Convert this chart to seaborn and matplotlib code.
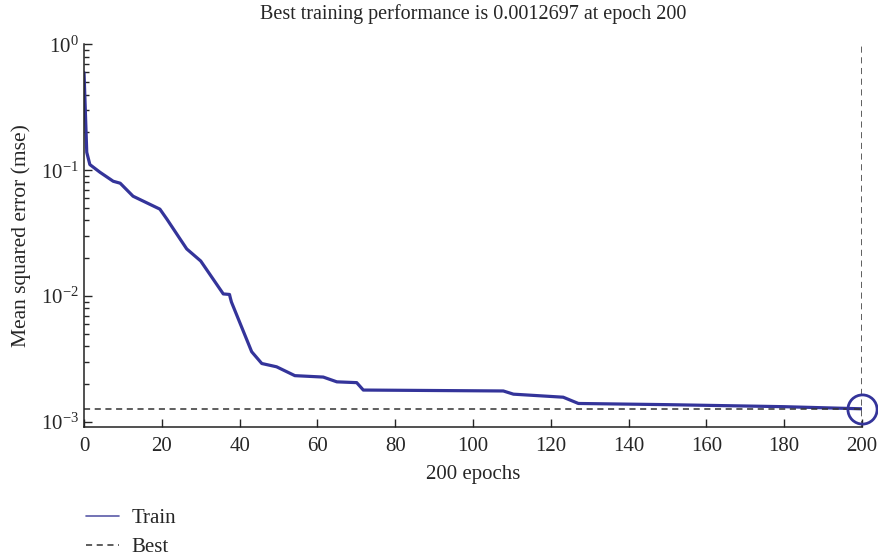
import numpy as np
import pandas as pd
import seaborn as sns
import matplotlib
matplotlib.use('Agg')
import matplotlib.pyplot as plt
from matplotlib.lines import Line2D
from matplotlib.ticker import LogLocator, MultipleLocator

sns.set_theme(style='ticks')
plt.rcParams['font.family'] = ['Liberation Serif', 'DejaVu Serif']
plt.rcParams['mathtext.fontset'] = 'stix'

# training curve (epoch, mse)
epochs = [0, 0.7, 1.5, 4.1, 7.5, 9.3, 12.6, 19.5, 21.3, 24.7, 26.4, 30, 35.8, 37.4, 37.6,
          37.9, 43.1, 45.7, 49.5, 54.2, 61.5, 65, 70.1, 71.8, 107.8, 110.4, 123.2,
          127.1, 150, 180, 200]
mse = [0.597, 0.139, 0.111, 0.0964, 0.0818, 0.0789, 0.0622, 0.0491, 0.0409, 0.0284,
       0.0237, 0.019, 0.0104, 0.0103, 0.0097, 0.00896, 0.00361, 0.00291, 0.00274,
       0.00233, 0.00227, 0.00208, 0.00205, 0.00179, 0.00176, 0.00166, 0.00157,
       0.00140, 0.00137, 0.00132, 0.0012697]

best_epoch = 200
best_perf = 0.0012697

train = pd.DataFrame({'epoch': epochs, 'mse': mse})

line_col = '#34349a'
dash_col = '#333333'
dash = (0, (4, 3))

fig = plt.figure(figsize=(8.79, 5.56), dpi=100)
ax = fig.add_axes([0.0956, 0.232, 0.885, 0.688])

sns.lineplot(data=train, x='epoch', y='mse', ax=ax, color=line_col, linewidth=2.3, legend=False)
ax.axhline(best_perf, color=dash_col, linestyle=dash, linewidth=1.1)
ax.axvline(best_epoch, color=dash_col, linestyle=dash, linewidth=1.1)
ax.plot([best_epoch], [best_perf], marker='o', markersize=21, markerfacecolor='none',
        markeredgecolor=line_col, markeredgewidth=2, clip_on=False, zorder=5)

ax.set_yscale('log')
ax.set_xlim(0, 200)
ax.set_ylim(9.1e-4, 1.0)
ax.xaxis.set_major_locator(MultipleLocator(20))
ax.yaxis.set_major_locator(LogLocator(base=10, numticks=10))
ax.yaxis.set_minor_locator(LogLocator(base=10, subs=np.arange(2, 10), numticks=10))
ax.tick_params(axis='both', which='major', direction='in', length=6, width=1, labelsize=15)
ax.tick_params(axis='x', which='major', pad=7)
ax.tick_params(axis='y', which='minor', direction='in', length=3.5, width=1)
ax.tick_params(axis='x', which='minor', length=0)
for s in ['top', 'right']:
    ax.spines[s].set_visible(False)
for s in ['left', 'bottom']:
    ax.spines[s].set_color('#222222')
    ax.spines[s].set_linewidth(1.1)

ax.set_title('Best training performance is 0.0012697 at epoch 200', fontsize=14.5, pad=18)
ax.set_xlabel('200 epochs', fontsize=15, labelpad=7)
ax.set_ylabel('Mean squared error (mse)', fontsize=15.5, labelpad=7)

handles = [Line2D([], [], color='#5a5aa8', linewidth=1.2),
           Line2D([], [], color=dash_col, linestyle=dash, linewidth=1.1)]
fig.legend(handles, ['Train', 'Best'], loc='upper left', bbox_to_anchor=(0.088, 0.1),
           frameon=False, fontsize=15, handlelength=1.6, handletextpad=0.6,
           labelspacing=0.45, borderaxespad=0)

fig.savefig('out.png', dpi=100)
